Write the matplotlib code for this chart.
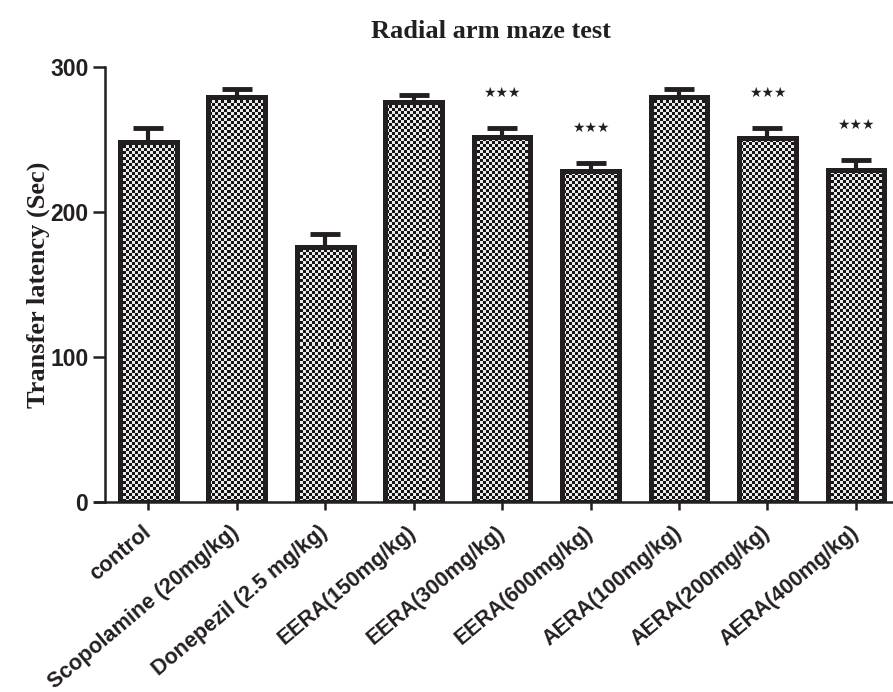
import matplotlib.pyplot as plt
import numpy as np

groups = ['control', 'Scopolamine (20mg/kg)', 'Donepezil (2.5 mg/kg)', 'EERA(150mg/kg)',
          'EERA(300mg/kg)', 'EERA(600mg/kg)', 'AERA(100mg/kg)', 'AERA(200mg/kg)', 'AERA(400mg/kg)']
means = [248, 279, 176, 276, 252, 228, 279, 251, 229]
sem = [10, 6, 9, 5, 6, 6, 6, 7, 7]
stars = ['', '', '', '', '***', '***', '', '***', '***']

fig = plt.figure(figsize=(8.93, 6.92), dpi=100)
ax = fig.add_axes([105/893, 190/692, 1 - 105/893, 435/692])

x = np.arange(len(groups))
w = 0.64
ink = '#231f20'

# checker fill
xlim = (-0.49, 8.42)
ylim = (0, 300)
nx, ny = 263, 145
board = (np.add.outer(np.arange(ny), np.arange(nx)) % 2).astype(float)

ax.errorbar(x, means, yerr=[np.zeros(len(sem)), sem], fmt='none', ecolor=ink,
            elinewidth=3, capsize=11, capthick=3.5, zorder=1)

bars = ax.bar(x, means, width=w, facecolor='none', edgecolor=ink, linewidth=3.6, zorder=3)
for b in bars:
    im = ax.imshow(board, cmap='gray', extent=(*xlim, *ylim), aspect='auto',
                   interpolation='nearest', zorder=2, vmin=-0.1, vmax=1.1)
    im.set_clip_path(b)

for i, s in enumerate(stars):
    if s:
        ax.text(x[i], means[i] + sem[i] + 24, '\u2605\u2605\u2605', ha='center', va='center',
                fontsize=10, color=ink, family='DejaVu Sans')

ax.set_xlim(*xlim)
ax.set_ylim(*ylim)
ax.set_yticks([0, 100, 200, 300])
ax.set_xticks(x)
ax.set_xticklabels(groups, rotation=40, ha='right', va='center', rotation_mode='anchor',
                   fontsize=15.5, fontweight='bold', family='Liberation Sans', color=ink)
for lab in ax.get_yticklabels():
    lab.set_fontsize(16.5)
    lab.set_fontweight('bold')
    lab.set_family('Liberation Sans')
ax.tick_params(axis='y', length=9, width=1.8, pad=3, colors=ink)
ax.tick_params(axis='x', length=6, width=1.8, pad=14, colors=ink)
ax.spines['top'].set_visible(False)
ax.spines['right'].set_visible(False)
for side in ['left', 'bottom']:
    ax.spines[side].set_linewidth(1.8)
    ax.spines[side].set_color(ink)
ax.spines['bottom'].set_bounds(-0.6, 8.42)

ax.set_ylabel('Transfer latency (Sec)', fontsize=19, fontweight='bold',
              family='Liberation Serif', labelpad=0, color=ink)
fig.text(491/893, 1 - 32/692, 'Radial arm maze test', ha='center', va='center',
         fontsize=19, fontweight='bold', family='Liberation Serif', color=ink)

fig.savefig('out.png', dpi=100)
